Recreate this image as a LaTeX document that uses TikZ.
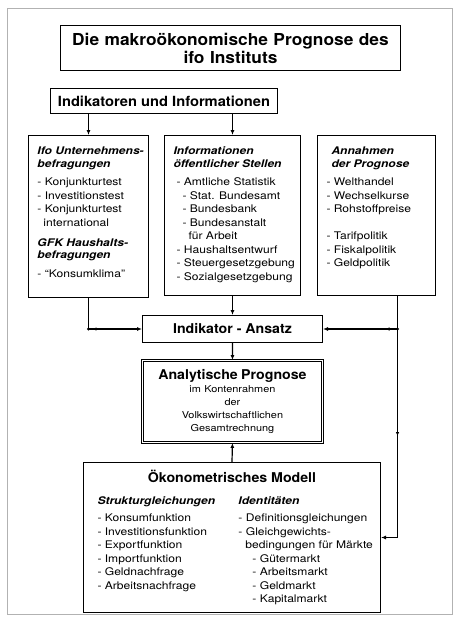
\documentclass[tikz,border=0pt]{standalone}
\usepackage{fontspec}
\setmainfont{TeX Gyre Heros}[FakeStretch=1.15]
\newfontfamily\headfont{TeX Gyre Heros}[FakeStretch=1.05]
\usetikzlibrary{arrows.meta,decorations.markings}

\tikzset{
  frame/.style = {draw, line width=1pt, inner sep=0pt, anchor=north west},
  headbox/.style = {frame, align=center, font=\headfont\bfseries},
  listbox/.style = {frame, font=\fontsize{10.5}{13.5}\selectfont},
  conn/.style = {line width=1.2pt, -{Latex[length=5pt,width=4pt]}},
  tick at/.style = {postaction={decorate},
    decoration={markings, mark=at position #1 with {\arrow{Latex[length=4pt,width=3.5pt]}}}}
}
% list box text: width, height, lines
\newcommand{\boxlist}[3]{\parbox[c][#2][t]{#1}{\raggedright\leftskip=9pt\parindent=0pt
  \vspace*{11.5pt}#3}}
\newcommand{\boxhead}[1]{{\bfseries\itshape #1}}

\begin{document}
\begin{tikzpicture}[x=1pt, y=-1pt]
   \useasboundingbox (0,0) rectangle (454,622);
   \draw[gray!60, line width=0.6pt] (7,8) rectangle (452,614);

   \node[headbox, text width=340pt, minimum height=45pt, font=\headfont\bfseries\fontsize{16.5}{18}\selectfont]
      (title) at (60,25) {Die makroökonomische Prognose des\\ifo Instituts};
   \node[headbox, minimum width=227pt, minimum height=25pt, font=\headfont\bfseries\fontsize{14}{16}\selectfont]
      (ind) at (50,88) {Indikatoren und Informationen};

   \node[listbox] (ifo) at (28,135) {\boxlist{120pt}{162pt}{%
      \boxhead{Ifo Unternehmens-\\[-1pt]befragungen}\\[5pt]
      - Konjunkturtest\\
      - Investitionstest\\
      - Konjunkturtest\\
      \hspace*{6pt}international\\[6.5pt]
      \boxhead{GFK Haushalts-\\[-1pt]befragungen}\\[5.5pt]
      - “Konsumklima”}};
   \node[listbox] (info) at (164,135) {\boxlist{136pt}{160pt}{%
      \boxhead{Informationen\\[-1pt]öffentlicher Stellen}\\[5pt]
      \hspace*{3pt}- Amtliche Statistik\\
      \hspace*{9pt}- Stat. Bundesamt\\
      \hspace*{9pt}- Bundesbank\\
      \hspace*{9pt}- Bundesanstalt\\
      \hspace*{15pt}für Arbeit\\
      \hspace*{3pt}- Haushaltsentwurf\\
      \hspace*{3pt}- Steuergesetzgebung\\
      \hspace*{3pt}- Sozialgesetzgebung}};
   \node[listbox] (anna) at (317,135) {\boxlist{118pt}{160pt}{%
      \hspace*{5pt}\boxhead{Annahmen\\[-1pt]\hspace*{5pt}der Prognose}\\[5pt]
      - Welthandel\\
      - Wechselkurse\\
      - Rohstoffpreise\\[13.5pt]
      - Tarifpolitik\\
      - Fiskalpolitik\\
      - Geldpolitik}};

   \node[headbox, minimum width=180pt, minimum height=27pt, font=\headfont\bfseries\fontsize{13.5}{15}\selectfont]
      (ansatz) at (142,315) {Indikator - Ansatz};
   \node[frame, double, double distance=1.8pt, line width=0.9pt, text width=180pt, minimum height=82pt, align=center]
      (analyt) at (142,360) {{\headfont\bfseries\fontsize{13.5}{14}\selectfont Analytische Prognose\par}
      {\fontsize{9.5}{13}\selectfont im Kontenrahmen\\der\\Volkswirtschaftlichen\\Gesamtrechnung\par}};

   \node[listbox] (oekon) at (83,462) {\parbox[c][150pt][t]{297pt}{\parindent=0pt
      \vspace*{7.5pt}{\centering\headfont\bfseries\fontsize{13.5}{15}\selectfont Ökonometrisches Modell\par}
      \vspace{9pt}\hspace*{14pt}\parbox[t]{141pt}{\raggedright
         \boxhead{Strukturgleichungen}\\[3.5pt]
         - Konsumfunktion\\
         - Investitionsfunktion\\
         - Exportfunktion\\
         - Importfunktion\\
         - Geldnachfrage\\
         - Arbeitsnachfrage}%
      \parbox[t]{140pt}{\raggedright
         \boxhead{Identitäten}\\[3.5pt]
         - Definitionsgleichungen\\
         - Gleichgewichts-\\
         \hspace*{7pt}bedingungen für Märkte\\
         \hspace*{14pt}- Gütermarkt\\
         \hspace*{14pt}- Arbeitsmarkt\\
         \hspace*{14pt}- Geldmarkt\\
         \hspace*{14pt}- Kapitalmarkt}}};

   % connectors
   \draw[conn] (ind.south -| ifo.north) -- (ifo.north);
   \draw[conn] (ind.south -| info.north) -- (info.north);
   \draw[conn] (info.south) -- (ansatz.north);
   \draw[conn, tick at=42pt] (ifo.south) |- (ansatz.west);
   \fill (ifo.south |- ansatz.west) circle (1.6pt);
   \coordinate (aout) at ([xshift=21pt]anna.south);
   \coordinate (split) at (aout |- ansatz.east);
   \draw[conn, tick at=140pt] (aout) |- (oekon.east);
   \draw[conn, tick at=12pt] (split) -- (ansatz.east);
   \fill (split) circle (1.6pt);
   \draw[conn] (ansatz.south) -- (analyt.north);
   \draw[conn] (oekon.north) -- (analyt.south);
\end{tikzpicture}
\end{document}
